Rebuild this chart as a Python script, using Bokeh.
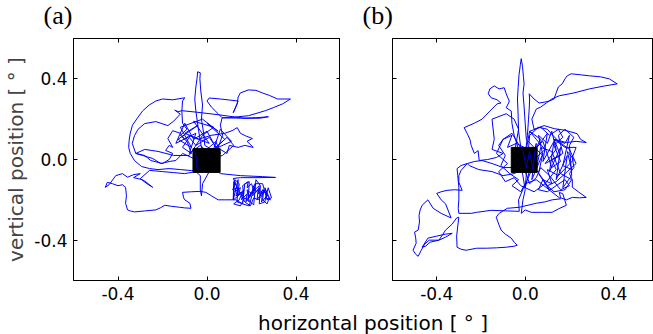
from bokeh.plotting import figure
from bokeh.models import (FixedTicker, NumeralTickFormatter, LinearAxis, Label,
                          Range1d, CustomJSTickFormatter)
from bokeh.layouts import column, row
from bokeh.embed import file_html
from bokeh.resources import INLINE

TICKS = [-0.4, 0.0, 0.4]
PANEL_LABELS = ["(a)", "(b)"]
X_LABEL = "horizontal position [ \u00b0 ]"
Y_LABEL = "vertical position [ \u00b0 ]"

# panel (a) trajectory, degrees
a_x = [0.00, -0.02, -0.03, -0.04, -0.05, -0.055, -0.05, -0.045, -0.042, -0.03, -0.032, -0.028, -0.02, -0.025, -0.015, -0.01,
       0.02, -0.03, 0.04, 0.06, 0.01, -0.05, -0.08, -0.11, -0.07, -0.09, -0.12, -0.09,
       -0.11, -0.113, -0.11, -0.10, -0.154, -0.20, -0.23, -0.26, -0.29, -0.31, -0.335, -0.345, -0.35, -0.352, -0.345, -0.326,
       -0.31, -0.294, -0.258, -0.22, -0.17, -0.12, -0.07, -0.02,
       0.03, 0.06, 0.15, 0.25, 0.308, 0.22, 0.15, 0.118,
       0.13, 0.115, 0.14, 0.13, 0.16, 0.145, 0.12, 0.15, 0.17, 0.19, 0.18, 0.20, 0.21, 0.22, 0.235, 0.24, 0.25, 0.27,
       0.265, 0.285, 0.26, 0.23, 0.21, 0.195, 0.17, 0.15, 0.13, 0.118,
       0.12, 0.135, 0.125, 0.15, 0.14, 0.165, 0.155, 0.18, 0.175, 0.20, 0.19, 0.215, 0.205, 0.23, 0.225, 0.25, 0.245,
       0.27, 0.26, 0.28, 0.27, 0.25, 0.255, 0.23, 0.235, 0.21, 0.20, 0.18, 0.185, 0.16, 0.165, 0.14, 0.145, 0.125, 0.118,
       0.14, 0.135, 0.16, 0.17, 0.19, 0.185, 0.21, 0.22, 0.24, 0.235, 0.26, 0.275, 0.29, 0.27, 0.25, 0.215, 0.19, 0.16, 0.13,
       0.08, 0.05, 0.02, -0.005, -0.03, -0.07, -0.11, -0.105, -0.10, -0.077, -0.072, -0.10, -0.122, -0.16, -0.19, -0.21,
       -0.23, -0.28, -0.326, -0.345, -0.357, -0.366, -0.362, -0.366, -0.38, -0.40, -0.425, -0.448, -0.457, -0.44, -0.41,
       -0.38, -0.357, -0.33, -0.30, -0.33, -0.29, -0.27, -0.244, -0.27, -0.30, -0.258, -0.20, -0.15, -0.10, -0.05,
       -0.03, -0.03, -0.025, -0.02, 0.01, 0.02,
       0.05, 0.07, 0.06, 0.068, 0.05, 0.02, 0.00, 0.01, 0.06, 0.10, 0.14, 0.118, 0.136, 0.14, 0.15, 0.186, 0.22, 0.249,
       0.28, 0.317, 0.35, 0.375, 0.34, 0.30, 0.262, 0.22, 0.186, 0.14, 0.10, 0.068, 0.15, 0.22, 0.276, 0.24, 0.17,
       0.05, -0.05, -0.113, -0.13, -0.145, -0.12,
       -0.15, -0.176, -0.23, -0.28, -0.31, -0.326, -0.336, -0.32, -0.28, -0.253, -0.20, -0.17, -0.154, -0.186, -0.17,
       -0.154, -0.176, -0.154, -0.12, -0.10, -0.08,
       -0.04, 0.02, 0.08, 0.113, 0.136, 0.15, 0.172, 0.204, 0.18, 0.208, 0.17, 0.14, 0.10, 0.09, 0.06,
       -0.05, -0.109, -0.14, -0.17, -0.208, -0.244, -0.29, -0.32, -0.28, -0.22, -0.15, -0.08,
       -0.02, 0.03, -0.06, 0.01, -0.10, -0.04, -0.13, -0.07, -0.12, -0.02, 0.05, 0.00, 0.08, 0.03, 0.11, 0.06, 0.02,
       -0.03, -0.08, -0.05, -0.14, -0.10, -0.06, 0.00, 0.04, 0.09, 0.12, 0.07, 0.00]
a_y = [0.00, 0.03, 0.09, 0.16, 0.24, 0.30, 0.36, 0.40, 0.435, 0.43, 0.40, 0.34, 0.27, 0.20, 0.13, 0.07,
       0.05, 0.02, 0.09, 0.03, 0.11, 0.07, 0.11, 0.06, 0.03, 0.09, 0.12, 0.15,
       0.18, 0.24, 0.29, 0.306, 0.296, 0.30, 0.29, 0.27, 0.24, 0.21, 0.17, 0.13, 0.095, 0.06, 0.03, -0.005,
       -0.02, -0.035, -0.045, -0.05, -0.045, -0.05, -0.055, -0.05,
       -0.04, -0.07, -0.08, -0.085, -0.089, -0.09, -0.09, -0.094,
       -0.12, -0.15, -0.14, -0.18, -0.16, -0.20, -0.22, -0.23, -0.19, -0.21, -0.15, -0.17, -0.13, -0.16, -0.14, -0.18, -0.15, -0.17,
       -0.19, -0.20, -0.16, -0.20, -0.19, -0.23, -0.21, -0.17, -0.19, -0.20,
       -0.11, -0.13, -0.16, -0.14, -0.18, -0.15, -0.20, -0.17, -0.21, -0.16, -0.19, -0.14, -0.18, -0.15, -0.20, -0.16, -0.21,
       -0.18, -0.14, -0.19, -0.22, -0.20, -0.15, -0.17, -0.13, -0.155, -0.12, -0.14, -0.11, -0.13, -0.17, -0.16, -0.12, -0.10, -0.20,
       -0.10, -0.21, -0.22, -0.12, -0.11, -0.20, -0.225, -0.10, -0.13, -0.22, -0.21, -0.14, -0.19, -0.20, -0.12, -0.12, -0.23, -0.22, -0.20,
       -0.20, -0.20, -0.18, -0.163, -0.158, -0.16, -0.163, -0.19, -0.20, -0.217, -0.242, -0.24, -0.237, -0.232, -0.227, -0.24,
       -0.25, -0.255, -0.26, -0.255, -0.25, -0.217, -0.18, -0.138, -0.125, -0.13, -0.12, -0.113, -0.138, -0.125, -0.08,
       -0.07, -0.088, -0.075, -0.07, -0.09, -0.10, -0.115, -0.138, -0.12, -0.095, -0.054, -0.06, -0.065, -0.07, -0.06,
       -0.08, -0.15, -0.18, -0.12, -0.06, 0.00,
       0.06, 0.12, 0.17, 0.207, 0.227, 0.26, 0.29, 0.305, 0.30, 0.295, 0.29, 0.232, 0.276, 0.31, 0.33, 0.345, 0.343, 0.33,
       0.318, 0.30, 0.30, 0.30, 0.276, 0.258, 0.242, 0.228, 0.217, 0.212, 0.207, 0.207, 0.205, 0.207, 0.212, 0.205, 0.204,
       0.222, 0.235, 0.242, 0.237, 0.245, 0.225,
       0.19, 0.168, 0.188, 0.178, 0.15, 0.118, 0.08, 0.03, 0.02, -0.005, -0.02, 0.00, 0.03, 0.045, 0.07,
       0.06, 0.104, 0.143, 0.13, 0.10, 0.12,
       0.10, 0.12, 0.13, 0.143, 0.158, 0.13, 0.118, 0.104, 0.09, 0.06, 0.07, 0.06, 0.07, 0.03, 0.05,
       0.00, 0.03, -0.005, -0.01, -0.02, 0.005, 0.02, 0.03, 0.05, 0.04, 0.02, 0.02,
       0.12, 0.16, 0.19, 0.08, 0.13, 0.17, 0.10, 0.06, 0.16, 0.20, 0.14, 0.18, 0.10, 0.05, 0.09, 0.15, 0.02,
       0.07, 0.03, 0.13, 0.08, 0.18, 0.10, 0.14, 0.06, 0.11, 0.07, 0.02, 0.00]

# panel (b) trajectory, degrees
b_x = [0.00, -0.02, -0.03, -0.032, -0.035, -0.032, -0.028, -0.022, -0.018, -0.012, -0.008, -0.005, -0.01, -0.005, 0.00, 0.005,
       0.04, 0.08, 0.06, 0.10, 0.12, 0.14, 0.09, 0.16, 0.13, 0.18, 0.20, 0.17, 0.21, 0.19, 0.22, 0.15, 0.10, 0.12, 0.08,
       0.06, 0.10, 0.14, 0.18, 0.20, 0.16, 0.11, 0.07, 0.05, 0.02, 0.00, 0.04, 0.09, 0.05, 0.02, 0.07, 0.11, 0.15, 0.17,
       0.13, 0.16, 0.12, 0.08, 0.03, -0.04, -0.08, -0.06, -0.10, -0.12, -0.09, -0.11, -0.07, -0.03, -0.06, -0.02, 0.01,
       0.03, 0.00,
       0.02, 0.07, 0.04, 0.10, 0.08, 0.13, 0.11, 0.16, 0.14, 0.19, 0.17, 0.21, 0.20, 0.22, 0.18, 0.15, 0.17, 0.12, 0.14,
       0.09, 0.11, 0.06, 0.08, 0.03, 0.05, 0.00, 0.02, 0.06, 0.10, 0.15, 0.20, 0.23, 0.19, 0.14, 0.10, 0.05, 0.07, 0.12,
       0.16, 0.21, 0.18, 0.13, 0.09, 0.04, -0.02, -0.05, -0.09, -0.12, -0.08, -0.13, -0.10, -0.06, 0.00,
       0.01, 0.015, 0.018, 0.02, 0.018, 0.04, 0.063, 0.09, 0.109, 0.13, 0.14, 0.15, 0.167, 0.18, 0.19, 0.208, 0.25, 0.29,
       0.34, 0.38, 0.416, 0.36, 0.29, 0.22, 0.154, 0.12, 0.095, 0.07, 0.05, 0.03, 0.04,
       0.086, 0.131, 0.18, 0.235, 0.25, 0.276, 0.23, 0.186, 0.15, 0.131, 0.18, 0.23, 0.213, 0.22, 0.20,
       0.213, 0.213, 0.24, 0.276, 0.245, 0.213, 0.186, 0.16, 0.154, 0.17, 0.186, 0.15, 0.122, 0.077, 0.027, 0.00, -0.018,
       -0.01, 0.00,
       -0.03, -0.05, -0.06, -0.063, -0.086, -0.075, -0.072, -0.08, -0.086, -0.095, -0.118, -0.14, -0.16, -0.167, -0.154,
       -0.127, -0.11, -0.127, -0.16, -0.195, -0.23, -0.276, -0.262, -0.25, -0.244, -0.23, -0.213, -0.208, -0.17, -0.13,
       -0.10, -0.15, -0.14, -0.15, -0.086, -0.05, -0.03, -0.06,
       -0.10, -0.15, -0.195, -0.23, -0.262, -0.29, -0.30, -0.30, -0.285, -0.32, -0.353, -0.38, -0.40, -0.38, -0.36,
       -0.335, -0.38, -0.416, -0.44, -0.466, -0.475, -0.48, -0.478, -0.484, -0.50, -0.495, -0.493, -0.507, -0.495,
       -0.484, -0.47, -0.455, -0.434, -0.39, -0.36, -0.33, -0.36, -0.40, -0.44, -0.466, -0.45, -0.43, -0.39, -0.36,
       -0.33, -0.31, -0.30, -0.305, -0.31, -0.308, -0.29, -0.267, -0.22, -0.176, -0.13, -0.086, -0.05, -0.036, -0.05,
       -0.063, -0.09, -0.109, -0.12, -0.131, -0.118, -0.081, -0.027, 0.05, 0.09, 0.122, 0.16,
       0.05, 0.00, -0.03, -0.027, -0.08, -0.154, -0.22, -0.244, -0.30, -0.303, -0.30, -0.30, -0.305, -0.308, -0.29,
       -0.262, -0.253, -0.21, -0.15, -0.10, -0.05, 0.00]
b_y = [0.00, 0.06, 0.14, 0.22, 0.30, 0.356, 0.42, 0.47, 0.50, 0.46, 0.41, 0.375, 0.33, 0.26, 0.18, 0.10,
       0.06, 0.02, 0.12, 0.08, 0.14, 0.05, -0.02, 0.02, 0.10, 0.08, 0.12, -0.03, -0.05, 0.04, 0.00, -0.08, -0.05, -0.12, -0.10,
       -0.15, -0.16, -0.13, -0.10, -0.13, -0.15, -0.08, -0.04, -0.09, -0.12, -0.06, 0.00, 0.05, 0.10, 0.14, 0.16, 0.12, 0.15, 0.11,
       0.07, -0.01, -0.04, 0.09, 0.04, 0.08, 0.06, 0.12, 0.10, 0.07, 0.02, -0.03, -0.07, -0.10, -0.13, -0.16, -0.10,
       -0.05, 0.02,
       0.14, 0.10, 0.04, 0.13, -0.01, 0.09, -0.06, 0.06, -0.10, 0.02, -0.14, -0.08, 0.07, 0.11, 0.15, 0.12, 0.03, 0.00, -0.05,
       -0.12, -0.15, -0.07, 0.03, -0.10, 0.08, -0.14, 0.12, 0.16, 0.15, 0.09, 0.05, -0.02, -0.06, -0.11, -0.13, -0.05, 0.06, 0.04,
       -0.07, -0.10, -0.15, -0.16, -0.12, -0.16, -0.13, -0.09, -0.11, -0.06, -0.02, 0.03, 0.10, 0.13, 0.02,
       0.12, 0.20, 0.25, 0.30, 0.326, 0.30, 0.28, 0.285, 0.29, 0.30, 0.33, 0.36, 0.375, 0.40, 0.415, 0.425, 0.42, 0.415,
       0.41, 0.40, 0.375, 0.365, 0.35, 0.33, 0.316, 0.30, 0.28, 0.26, 0.25, 0.20, 0.15,
       0.168, 0.153, 0.145, 0.128, 0.10, 0.084, 0.09, 0.084, 0.095, 0.10, 0.06, 0.06, 0.01, -0.04, -0.07,
       -0.10, -0.138, -0.16, -0.188, -0.19, -0.188, -0.20, -0.19, -0.163, -0.17, -0.227, -0.245, -0.262, -0.262, -0.262, -0.25, -0.267,
       -0.20, -0.15,
       0.05, 0.12, 0.18, 0.24, 0.257, 0.28, 0.29, 0.31, 0.326, 0.356, 0.35, 0.365, 0.35, 0.326, 0.306,
       0.296, 0.28, 0.276, 0.24, 0.20, 0.18, 0.158, 0.128, 0.10, 0.069, 0.03, 0.044, -0.005, 0.00, 0.01,
       0.03, 0.05, 0.10, 0.20, 0.227, 0.20, 0.15, -0.04,
       -0.04, -0.02, -0.005, -0.01, -0.02, -0.054, -0.08, -0.113, -0.153, -0.15, -0.153, -0.16, -0.168, -0.20, -0.22,
       -0.29, -0.267, -0.242, -0.20, -0.227, -0.25, -0.277, -0.31, -0.35, -0.36, -0.39, -0.415, -0.45, -0.47,
       -0.48, -0.45, -0.42, -0.40, -0.40, -0.385, -0.366, -0.37, -0.38, -0.39, -0.435, -0.43, -0.41, -0.40, -0.35,
       -0.32, -0.29, -0.286, -0.33, -0.38, -0.435, -0.445, -0.45, -0.44, -0.44, -0.438, -0.435, -0.43, -0.425, -0.41,
       -0.39, -0.37, -0.35, -0.32, -0.286, -0.267, -0.242, -0.237, -0.217, -0.21, -0.20, -0.195,
       -0.10, -0.12, -0.20, -0.257, -0.255, -0.252, -0.262, -0.267, -0.267, -0.242, -0.20, -0.138, -0.08, -0.045, -0.03,
       -0.02, -0.03, -0.05, -0.06, -0.08, -0.07, -0.04]

# dense fixation core (black block) per panel
core_left = [-0.063, -0.063]
core_right = [0.059, 0.054]
core_bottom = [-0.064, -0.064]
core_top = [0.054, 0.060]

# strokes visible on top of the black block
a_over_x = [-0.055, -0.045, -0.05, -0.04]
a_over_y = [0.04, 0.0, -0.03, -0.055]
b_over_x = [-0.01, 0.005, 0.02, 0.035, 0.045]
b_over_y = [0.045, -0.04, 0.04, -0.05, 0.05]

FONT = "DejaVu Sans"


def inner_axis(ax):
    ax.ticker = FixedTicker(ticks=TICKS)
    ax.major_tick_in = 4
    ax.major_tick_out = 0
    ax.minor_tick_in = 0
    ax.minor_tick_out = 0
    ax.axis_line_color = "black"
    ax.major_tick_line_color = "black"
    ax.major_label_text_font = FONT
    ax.major_label_text_font_size = "17px"
    ax.major_label_text_color = "black"
    ax.major_label_standoff = 6


def blank_axis():
    ax = LinearAxis(formatter=CustomJSTickFormatter(code="return ''"))
    inner_axis(ax)
    ax.major_label_standoff = 0
    return ax


def make_panel(idx, width, min_left, xr, xs, ys, ox, oy, show_y):
    p = figure(width=width, height=280, x_range=Range1d(*xr), y_range=Range1d(-0.6, 0.6),
               output_backend="svg", toolbar_location=None, title=None,
               min_border_left=min_left, min_border_right=0, min_border_top=8, min_border_bottom=30)
    p.grid.visible = False
    p.outline_line_color = "black"
    p.outline_line_width = 1
    p.background_fill_color = "white"
    p.border_fill_color = "white"
    for ax in p.xaxis:
        inner_axis(ax)
        ax.formatter = NumeralTickFormatter(format="0.0")
    for ax in p.yaxis:
        inner_axis(ax)
        if show_y:
            ax.formatter = NumeralTickFormatter(format="0.0")
            ax.axis_label = Y_LABEL
            ax.axis_label_text_font = FONT
            ax.axis_label_text_font_size = "20px"
            ax.axis_label_text_font_style = "normal"
            ax.axis_label_standoff = 3
        else:
            ax.formatter = CustomJSTickFormatter(code="return ''")
            ax.major_label_standoff = 0
    p.add_layout(blank_axis(), "right")
    p.add_layout(blank_axis(), "above")

    p.line(xs, ys, line_color="#0000ff", line_width=1)
    p.quad(left=[core_left[idx]], right=[core_right[idx]], bottom=[core_bottom[idx]], top=[core_top[idx]],
           fill_color="black", line_color="black")
    p.line(ox, oy, line_color="#0000ff", line_width=0.8)
    return p


def text_strip(height):
    return figure(width=653, height=height, x_range=Range1d(0, 653), y_range=Range1d(0, height), title=None,
                  x_axis_type=None, y_axis_type=None, output_backend="svg", toolbar_location=None,
                  min_border=0, outline_line_color=None)


pt = text_strip(30)
for txt, xpos in zip(PANEL_LABELS, [43, 362]):
    pt.add_layout(Label(x=xpos, y=30, text=txt, text_font="Liberation Serif", text_font_size="26px",
                        text_color="black", text_baseline="top"))

pa = make_panel(0, 340, 73, (-0.6, 0.6), a_x, a_y, a_over_x, a_over_y, True)
pb = make_panel(1, 313, 52, (-0.6, 0.58), b_x, b_y, b_over_x, b_over_y, False)

pl = text_strip(24)
pl.add_layout(Label(x=372.5, y=24, text=X_LABEL, text_align="center", text_font=FONT,
                    text_font_size="20px", text_color="black", text_baseline="top"))

layout = column(pt, row(pa, pb), pl)
open("out.html", "w").write(file_html(layout, INLINE))
